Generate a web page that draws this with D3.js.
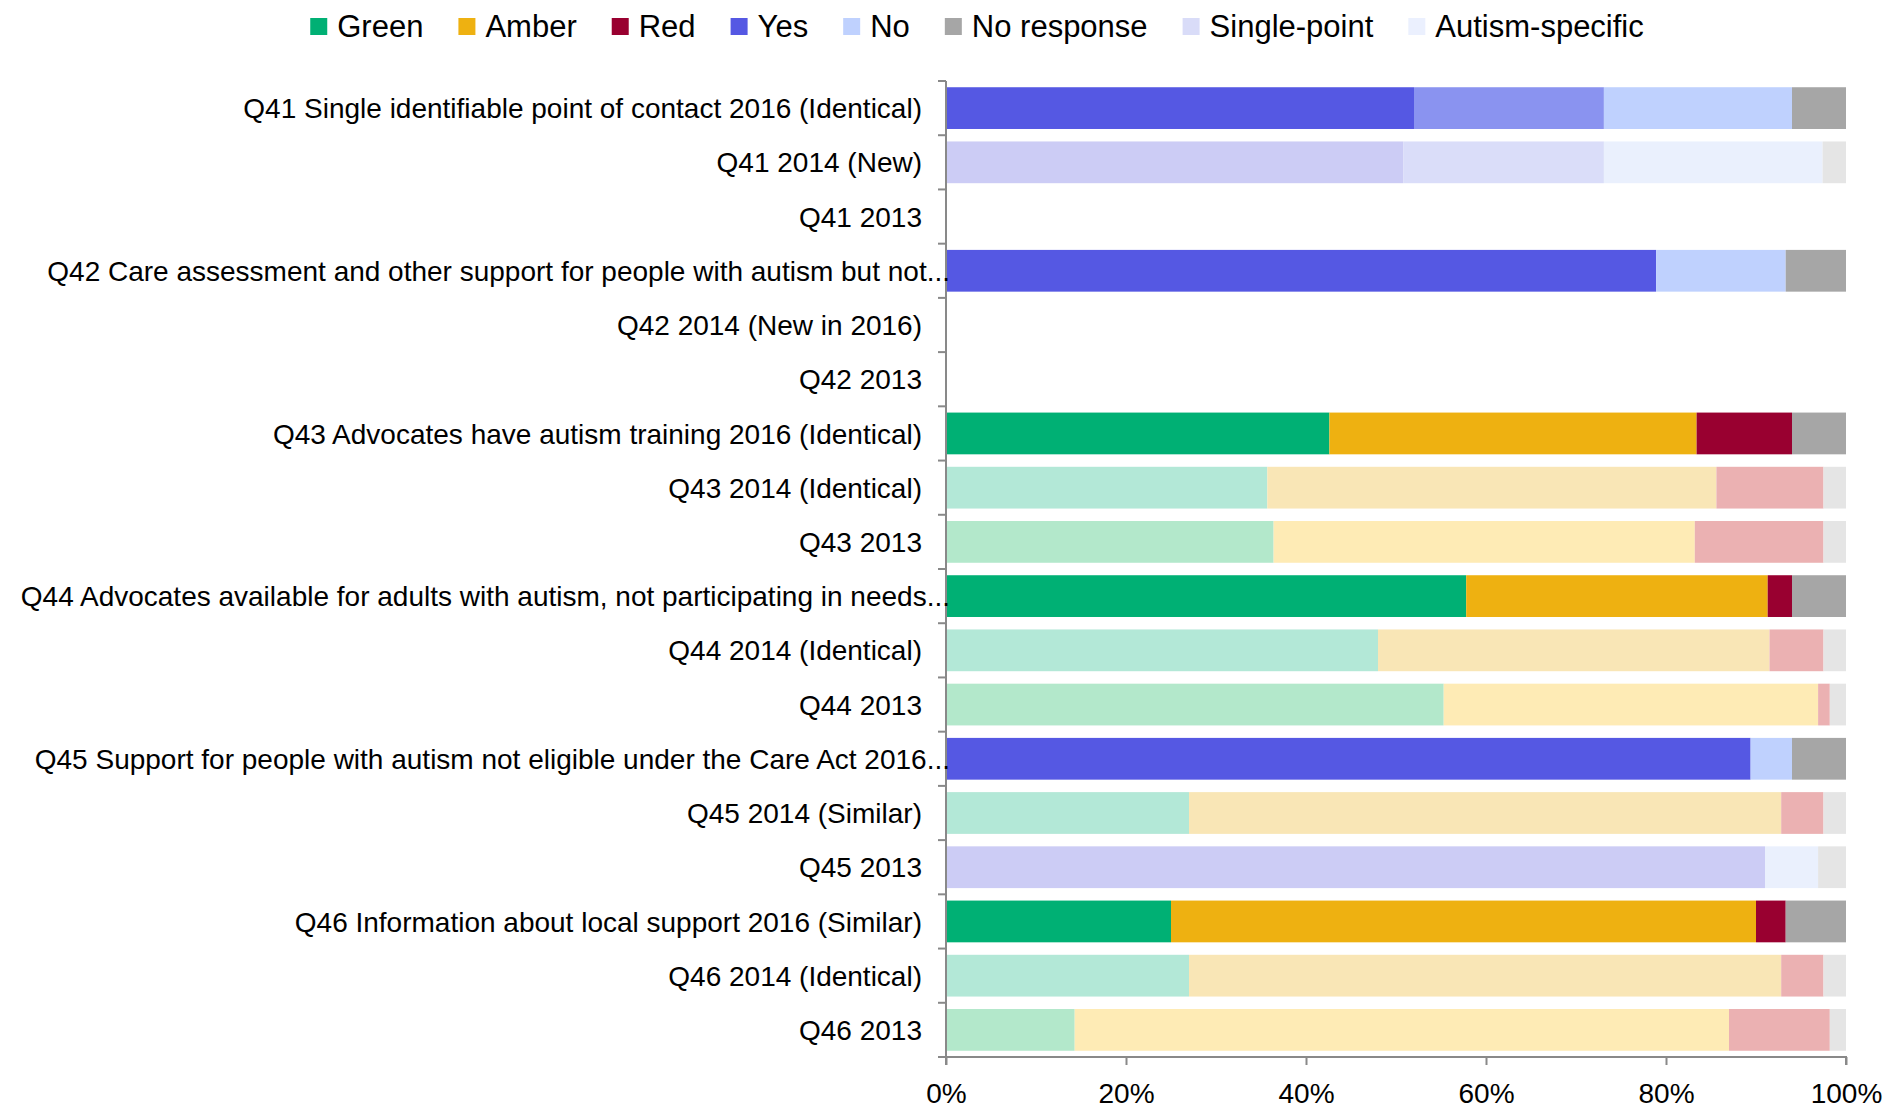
<!DOCTYPE html>
<html>
<head>
<meta charset="utf-8">
<script src="https://cdn.jsdelivr.net/npm/d3@7"></script>
<style>
  html, body { margin: 0; padding: 0; background: #fff; }
  svg { display: block; font-family: "Liberation Sans", Arial, sans-serif; }
</style>
</head>
<body>
<svg id="chart" width="1890" height="1110"></svg>
<script>
// ---------- DATA ----------
const categories = [
  "Q41 Single identifiable point of contact 2016 (Identical)",
  "Q41 2014 (New)",
  "Q41 2013",
  "Q42 Care assessment and other support for people with autism but not...",
  "Q42 2014 (New in 2016)",
  "Q42 2013",
  "Q43 Advocates have autism training 2016 (Identical)",
  "Q43 2014 (Identical)",
  "Q43 2013",
  "Q44 Advocates available for adults with autism, not participating in needs...",
  "Q44 2014 (Identical)",
  "Q44 2013",
  "Q45 Support for people with autism not eligible under the Care Act 2016...",
  "Q45 2014 (Similar)",
  "Q45 2013",
  "Q46 Information about local support 2016 (Similar)",
  "Q46 2014 (Identical)",
  "Q46 2013"
];
const eras = ["2016","2014","2013","2016","2014","2013","2016","2014","2013",
              "2016","2014","2013","2016","2014","2013","2016","2014","2013"];

const green  = [0, 0, 0, 0, 0, 0, 42.6, 35.7, 36.4, 57.8, 48.0, 55.3, 0, 27.0, 0, 25.0, 27.0, 14.3];
const amber  = [0, 0, 0, 0, 0, 0, 40.8, 49.9, 46.8, 33.5, 43.5, 41.6, 0, 65.8, 0, 65.0, 65.8, 72.7];
const red    = [0, 0, 0, 0, 0, 0, 10.6, 11.9, 14.3, 2.7, 6.0, 1.3, 0, 4.7, 0, 3.3, 4.7, 11.2];
const yes    = [52.0, 50.8, 0, 78.9, 0, 0, 0, 0, 0, 0, 0, 0, 89.4, 0, 91.0, 0, 0, 0];
const single = [21.1, 22.3, 0, 0, 0, 0, 0, 0, 0, 0, 0, 0, 0, 0, 0, 0, 0, 0];
const no     = [20.9, 0, 0, 14.4, 0, 0, 0, 0, 0, 0, 0, 0, 4.6, 0, 0, 0, 0, 0];
const autism = [0, 24.3, 0, 0, 0, 0, 0, 0, 0, 0, 0, 0, 0, 0, 5.9, 0, 0, 0];
const noResp = [6.0, 2.6, 0, 6.7, 0, 0, 6.0, 2.5, 2.5, 6.0, 2.5, 1.8, 6.0, 2.5, 3.1, 6.7, 2.5, 1.8];

const xTicks = [0, 20, 40, 60, 80, 100];
const xTickLabels = ["0%", "20%", "40%", "60%", "80%", "100%"];

const legendNames  = ["Green", "Amber", "Red", "Yes", "No", "No response", "Single-point", "Autism-specific"];
const legendColors = ["#00B074", "#EEB111", "#990030", "#5558E3", "#BFD1FE", "#A6A6A6", "#D9DCF8", "#EBF0FE"];

const stackKeys = ["green", "amber", "red", "yes", "single", "no", "autism", "noResp"];
const eraColors = {
  "2016": {green:"#00B074", amber:"#EEB111", red:"#990030", yes:"#5558E3", single:"#8A93F0", no:"#BFD1FE", autism:"#EAF0FD", noResp:"#A6A6A6"},
  "2014": {green:"#B3E8D7", amber:"#F9E6B6", red:"#EBB1B2", yes:"#CCCCF5", single:"#DADDF9", no:"#BFD1FE", autism:"#EAF0FD", noResp:"#E5E5E5"},
  "2013": {green:"#B3E8CB", amber:"#FEEBB5", red:"#EBB1B2", yes:"#CCCCF5", single:"#DADDF9", no:"#BFD1FE", autism:"#EAF0FD", noResp:"#E5E5E5"}
};

// ---------- LAYOUT ----------
const svg = d3.select("#chart");
const plot = {left: 946, right: 1846, top: 81, bottom: 1057};
const axisColor = "#898989";

const rows = categories.map((c, i) => ({
  cat: c, era: eras[i],
  green: green[i], amber: amber[i], red: red[i], yes: yes[i],
  single: single[i], no: no[i], autism: autism[i], noResp: noResp[i]
}));

const x = d3.scaleLinear().domain([0, 100]).range([plot.left, plot.right]);
const y = d3.scaleBand().domain(categories).range([plot.top, plot.bottom])
  .paddingInner(0.23).paddingOuter(0.115);

const stacked = d3.stack().keys(stackKeys)(rows);

// bars
const gBars = svg.append("g");
stacked.forEach(layer => {
  gBars.selectAll(null)
    .data(layer.filter(d => d[1] - d[0] > 0))
    .enter().append("rect")
    .attr("x", d => x(d[0]))
    .attr("width", d => x(d[1]) - x(d[0]))
    .attr("y", d => y(d.data.cat))
    .attr("height", y.bandwidth())
    .attr("fill", d => eraColors[d.data.era][layer.key]);
});

// Y axis line and ticks at band boundaries
const step = y.step();
const gY = svg.append("g");
gY.append("line")
  .attr("x1", plot.left).attr("x2", plot.left)
  .attr("y1", plot.top).attr("y2", plot.bottom)
  .attr("stroke", axisColor).attr("stroke-width", 2);
gY.selectAll(null).data(d3.range(categories.length + 1)).enter().append("line")
  .attr("x1", plot.left - 8).attr("x2", plot.left)
  .attr("y1", i => plot.top + i * step).attr("y2", i => plot.top + i * step)
  .attr("stroke", axisColor).attr("stroke-width", 2);

// Y labels
gY.selectAll(null).data(categories).enter().append("text")
  .attr("x", d => d.endsWith("...") ? plot.left + 4 : plot.left - 24)
  .attr("y", d => y(d) + y.bandwidth() / 2)
  .attr("dy", "0.36em")
  .attr("text-anchor", "end")
  .attr("font-size", 28)
  .attr("fill", "#000")
  .text(d => d);

// X axis
const xAxis = d3.axisBottom(x).tickValues(xTicks)
  .tickFormat((d, i) => xTickLabels[i]).tickSize(8).tickPadding(18);
const gX = svg.append("g").attr("transform", `translate(0,${plot.bottom})`).call(xAxis);
gX.select(".domain").attr("stroke", axisColor).attr("stroke-width", 2)
  .attr("d", `M${plot.left},8V0H${plot.right}V8`);
gX.selectAll(".tick line").attr("stroke", axisColor).attr("stroke-width", 2);
gX.selectAll(".tick text").attr("font-size", 28).attr("fill", "#000")
  .attr("font-family", "Liberation Sans, Arial, sans-serif");

// Legend
const gL = svg.append("g");
const items = gL.selectAll(null).data(legendNames).enter().append("g");
items.append("rect").attr("width", 17).attr("height", 17).attr("y", 18)
  .attr("fill", (d, i) => legendColors[i]);
items.append("text").attr("x", 27).attr("y", 37).attr("font-size", 31)
  .attr("fill", "#000").text(d => d);
let cx = 0;
const positions = [];
const gap = 35;
items.each(function() {
  const w = d3.select(this).select("text").node().getComputedTextLength();
  positions.push(cx);
  cx += 27 + w + gap;
});
const totalW = cx - gap;
const startX = 977 - totalW / 2;
items.attr("transform", (d, i) => `translate(${startX + positions[i]},0)`);
</script>
</body>
</html>
